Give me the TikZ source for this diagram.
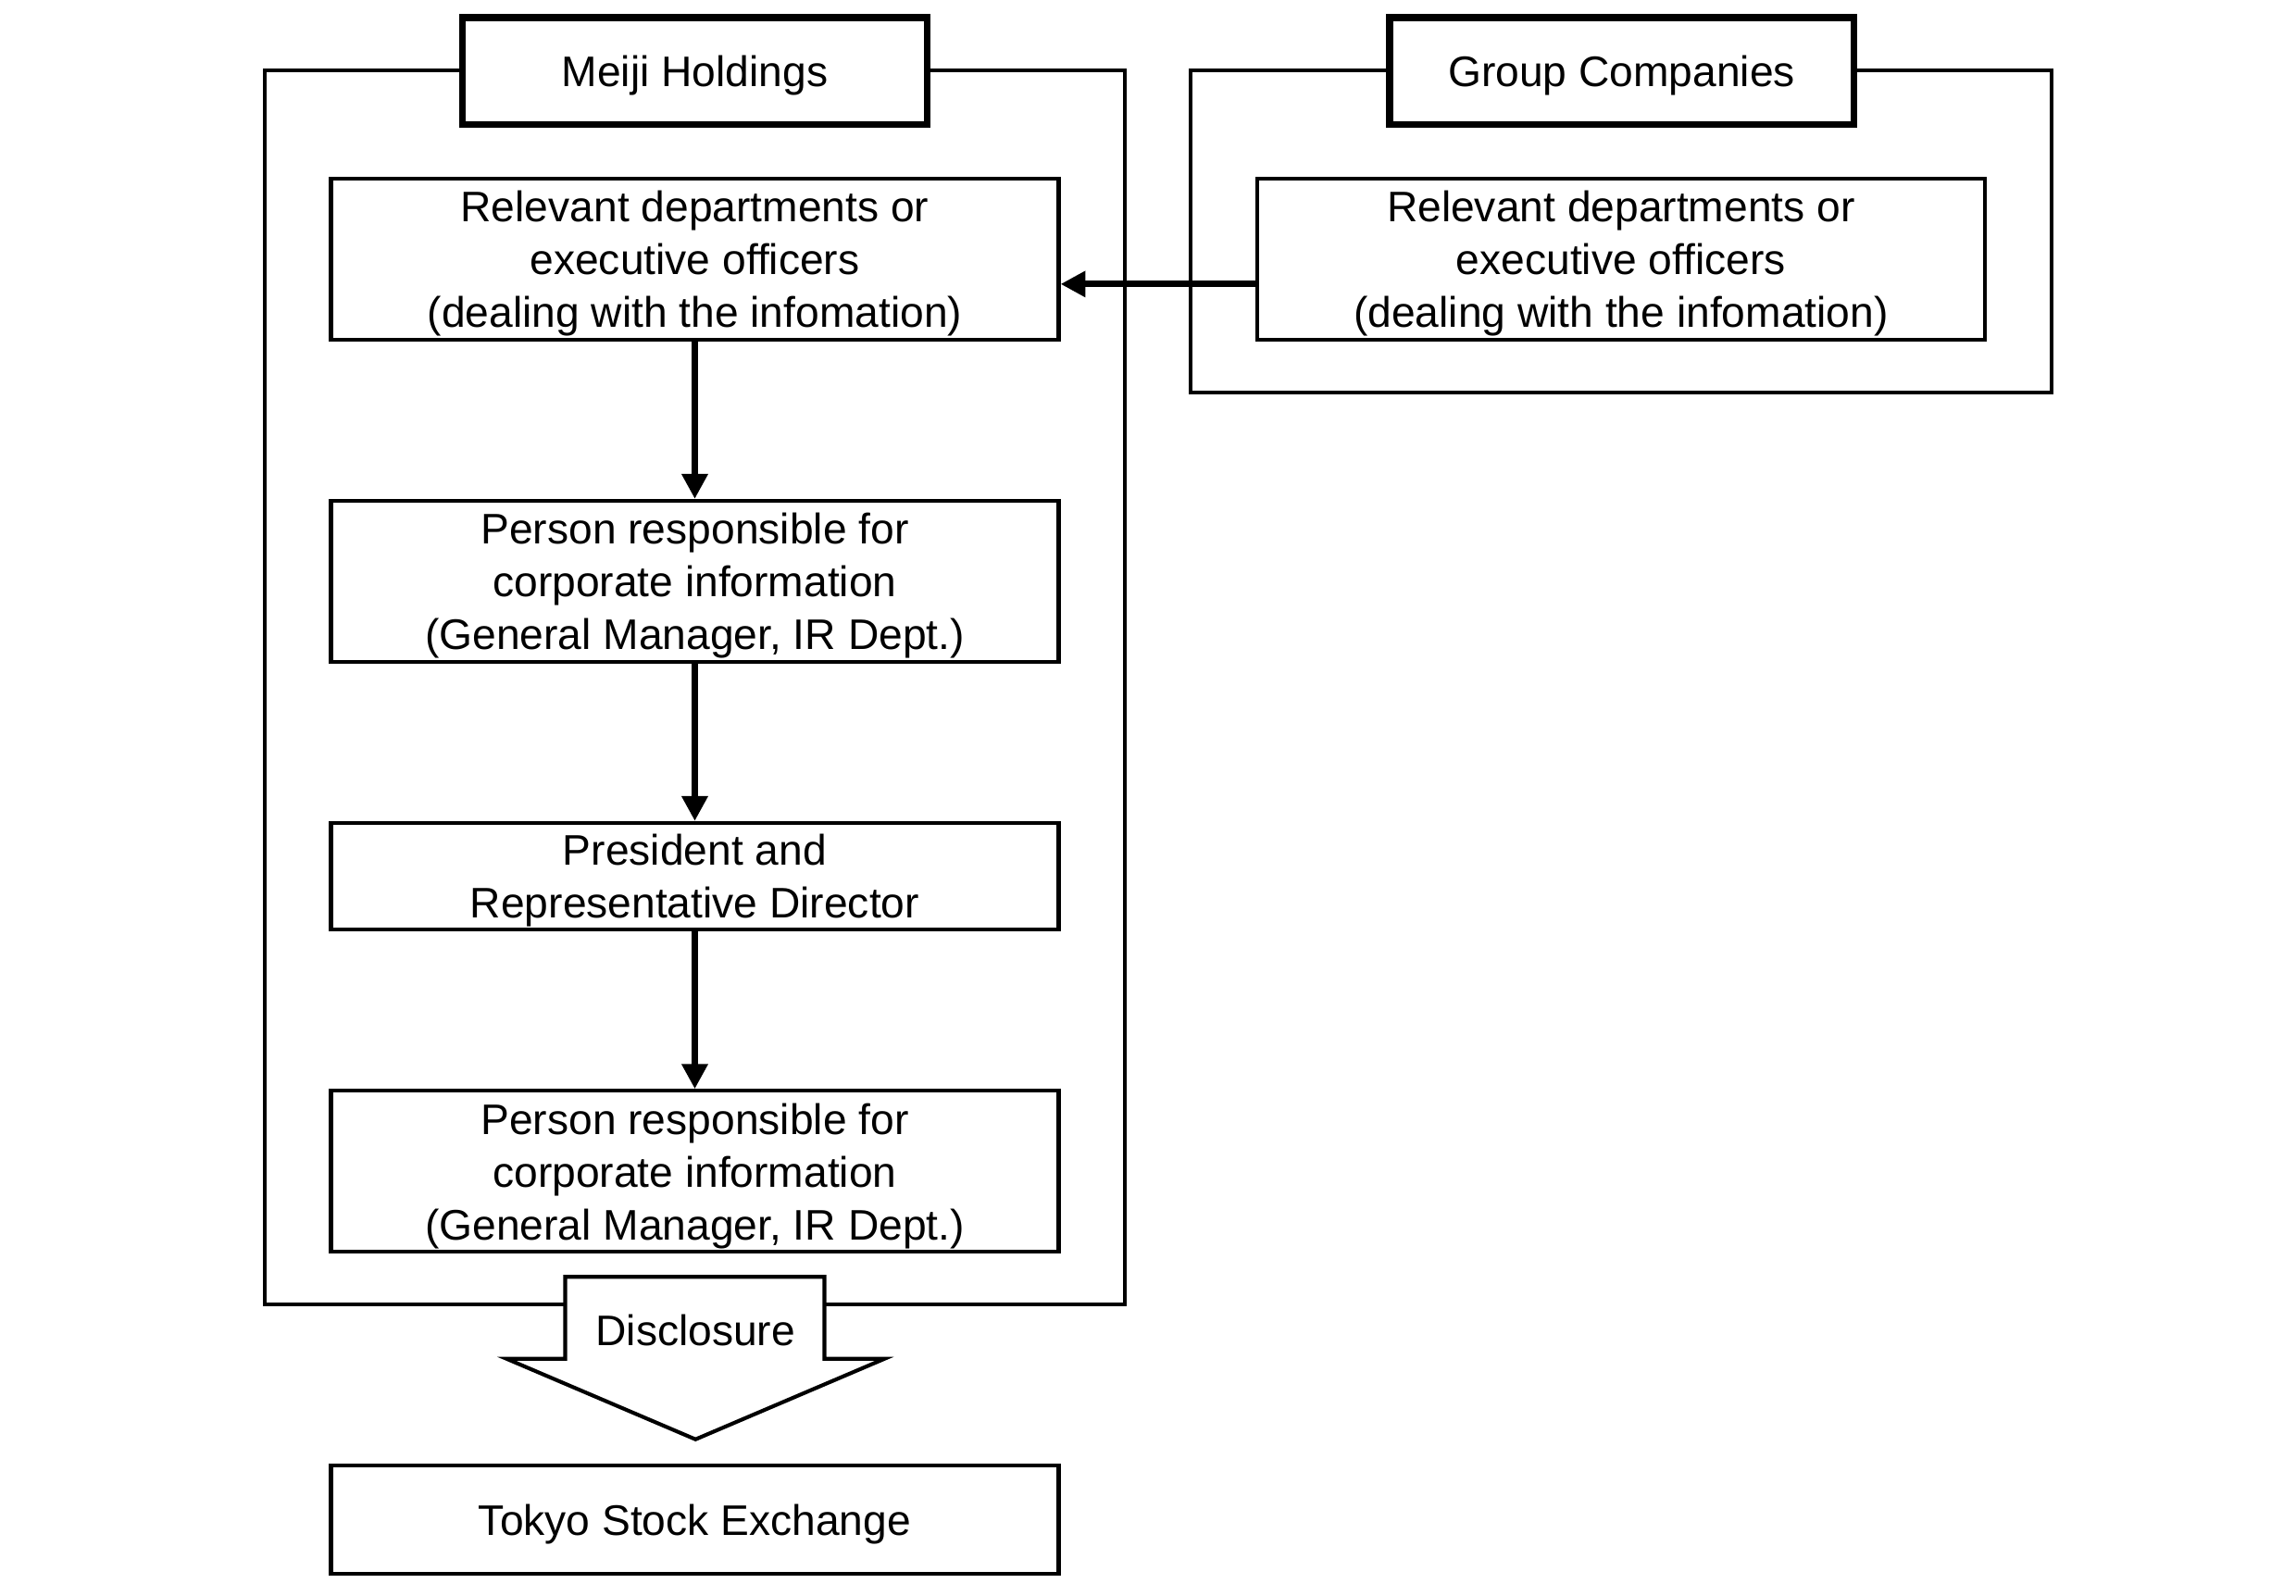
\documentclass[tikz,border=0pt]{standalone}
\usepackage{fontspec}
\setmainfont{Liberation Sans}
\usetikzlibrary{arrows.meta}
\begin{document}
\begin{tikzpicture}[x=0.5pt,y=-0.5pt,
 txt/.style={font=\fontsize{14.6}{18}\selectfont},
 thinbox/.style={draw, line width=1.3pt, fill=white, align=center, inner sep=0pt, text depth=0pt, minimum width=248.5pt, txt},
 titlebox/.style={draw, line width=2.3pt, fill=white, inner sep=0pt, text depth=0pt, minimum width=158.5pt, minimum height=36.5pt, txt},
 frame/.style={draw, line width=1.3pt},
 flow/.style={line width=2.3pt, -{Triangle[length=8.5pt,width=8.5pt]}},
]
\useasboundingbox (0,0) rectangle (1568,1089.4);
% outer frames
\draw[frame] (181,48) rectangle (768,891);
\draw[frame] (813,48) rectangle (1401,268);
% titles
\node[titlebox] (meiji) at (474.5,48.5) {Meiji Holdings};
\node[titlebox] (group) at (1107.5,48.5) {Group Companies};
% boxes
\node[thinbox, minimum height=55pt] (r1) at (474.5,177) {Relevant departments or\\executive officers\\(dealing with the infomation)};
\node[thinbox, minimum height=55pt] (g1) at (1107,177) {Relevant departments or\\executive officers\\(dealing with the infomation)};
\node[thinbox, minimum height=55pt] (p1) at (474.5,397) {Person responsible for\\corporate information\\(General Manager, IR Dept.)};
\node[thinbox, minimum height=36.5pt] (pres) at (474.5,598.5) {President and\\Representative Director};
\node[thinbox, minimum height=55pt] (p2) at (474.5,800) {Person responsible for\\corporate information\\(General Manager, IR Dept.)};
\node[thinbox, minimum height=37pt] (tse) at (474.5,1038) {Tokyo Stock Exchange};
% connectors
\draw[flow] ([yshift=-8.5pt]g1.west) -- ([yshift=-8.5pt]r1.east);
\draw[flow] (r1.south) -- (p1.north);
\draw[flow] (p1.south) -- (pres.north);
\draw[flow] (pres.south) -- (p2.north);
% disclosure arrow
\draw[frame, fill=white, line join=miter] (386,872) -- (563,872) -- (563,928) -- (604,928) -- (475,983) -- (346,928) -- (386,928) -- cycle;
\node[txt] (disc) at (475,908.5) {Disclosure};
\end{tikzpicture}
\end{document}
